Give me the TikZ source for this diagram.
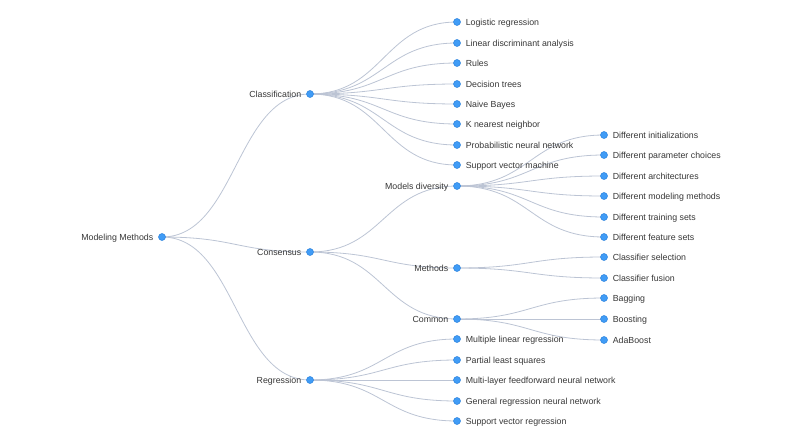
\documentclass[tikz,border=0pt]{standalone}
\usepackage{fontspec}
\setmainfont{Liberation Sans}
\usetikzlibrary{calc,backgrounds}
\definecolor{dotfill}{RGB}{64,156,246}
\definecolor{dotline}{RGB}{44,130,220}
\definecolor{linkcol}{RGB}{188,196,212}
\definecolor{txtcol}{RGB}{55,55,55}
\tikzset{
    dot/.style={circle,fill=dotfill,draw=dotline,line width=0.5pt,minimum size=7pt,inner sep=0pt},
    lbl/.style={text=txtcol,font=\fontsize{8.8}{11}\selectfont,label distance=1.5pt,yshift=-0.8pt},
    lleft/.style={lbl,anchor=mid east},
    lright/.style={lbl,anchor=mid west},
    link/.style={draw=linkcol,line width=0.8pt}
}
\begin{document}
\begin{tikzpicture}[x=1pt,y=-1pt]
        \useasboundingbox (0,0) rectangle (800,428);

        % inner nodes, text on the left
        \node[dot,label={[lleft]left:Modeling Methods}] (root) at (162,237) {};
        \node[dot,label={[lleft]left:Classification}] (cls) at (310,94) {};
        \node[dot,label={[lleft]left:Consensus}] (cons) at (310,252) {};
        \node[dot,label={[lleft]left:Regression}] (reg) at (310,380) {};
        \node[dot,label={[lleft]left:Models diversity}] (div) at (457,186) {};
        \node[dot,label={[lleft]left:Methods}] (meth) at (457,268) {};
        \node[dot,label={[lleft]left:Common}] (comm) at (457,319) {};

        % leaves, text on the right
        \foreach \n/\y/\t in {lr/22/Logistic regression, lda/43/Linear discriminant analysis,
            rules/63/Rules, dt/84/Decision trees, nb/104/Naive Bayes, knn/124/K nearest neighbor,
            pnn/145/Probabilistic neural network, svm/165/Support vector machine,
            mlr/339/Multiple linear regression, pls/360/Partial least squares,
            mlff/380/Multi-layer feedforward neural network,
            grnn/401/General regression neural network, svr/421/Support vector regression} {
            \node[dot,label={[lright]right:\t}] (\n) at (457,\y) {};
        }
        \foreach \n/\y/\t in {init/135/Different initializations, par/155/Different parameter choices,
            arch/176/Different architectures, mm/196/Different modeling methods,
            ts/217/Different training sets, fs/237/Different feature sets,
            csel/257/Classifier selection, cfus/278/Classifier fusion,
            bag/298/Bagging, boost/319/Boosting, ada/340/AdaBoost} {
            \node[dot,label={[lright]right:\t}] (\n) at (604,\y) {};
        }

        \begin{scope}[on background layer]
            \foreach \s/\d in {root/cls, root/cons, root/reg,
                cls/lr, cls/lda, cls/rules, cls/dt, cls/nb, cls/knn, cls/pnn, cls/svm,
                cons/div, cons/meth, cons/comm,
                reg/mlr, reg/pls, reg/mlff, reg/grnn, reg/svr,
                div/init, div/par, div/arch, div/mm, div/ts, div/fs,
                meth/csel, meth/cfus, comm/bag, comm/boost, comm/ada} {
                \draw[link] let \p1=(\s), \p2=(\d) in
                    (\p1) .. controls ({(\x1+\x2)/2},\y1) and ({(\x1+\x2)/2},\y2) .. (\p2);
            }
        \end{scope}
    \end{tikzpicture}
\end{document}
